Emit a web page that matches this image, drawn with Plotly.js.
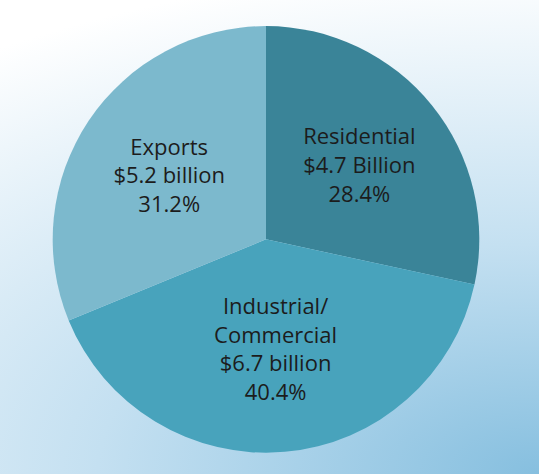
<!DOCTYPE html>
<html>
<head>
<meta charset="utf-8">
<script src="https://cdn.plot.ly/plotly-3.0.1.min.js"></script>
<style>
  html, body { margin: 0; padding: 0; }
  body {
    width: 539px; height: 474px; overflow: hidden;
    background: radial-gradient(ellipse 980px 510px at 100% 100%, #86bfdf 0%, #c4e0f1 45%, #ffffff 100%);
  }
  #chart { width: 539px; height: 474px; }
</style>
</head>
<body>
<div id="chart"></div>
<script>
  // 各部門占比（%）與金額（十億美元）
  var labels = ["Residential", "Industrial/<br>Commercial", "Exports"];
  var shares = [28.4, 40.4, 31.2];
  var amounts = [4.7, 6.7, 5.2];
  var units = ["Billion", "billion", "billion"];
  var colors = ["#3a8498", "#48a3bc", "#7cb9cd"];

  var trace = {
    type: "pie",
    labels: labels,
    values: shares,
    customdata: amounts.map(function (a, i) { return [a, units[i]]; }),
    texttemplate: "%{label}<br>$%{customdata[0]:.1f} %{customdata[1]}<br>%{value:.1f}%",
    textposition: "inside",
    insidetextorientation: "horizontal",
    textfont: { family: "'Open Sans', 'Noto Sans', sans-serif", size: 22, color: "#1c1c1c" },
    sort: false,
    direction: "clockwise",
    rotation: 0,
    marker: { colors: colors, line: { width: 0 } },
    domain: { x: [0.0965, 0.8905], y: [0.045, 0.945] },
    hoverinfo: "skip"
  };

  var layout = {
    width: 539, height: 474,
    margin: { l: 0, r: 0, t: 0, b: 0 },
    showlegend: false,
    paper_bgcolor: "rgba(0,0,0,0)",
    plot_bgcolor: "rgba(0,0,0,0)"
  };

  Plotly.newPlot("chart", [trace], layout, { displayModeBar: false, staticPlot: true });
</script>
</body>
</html>
